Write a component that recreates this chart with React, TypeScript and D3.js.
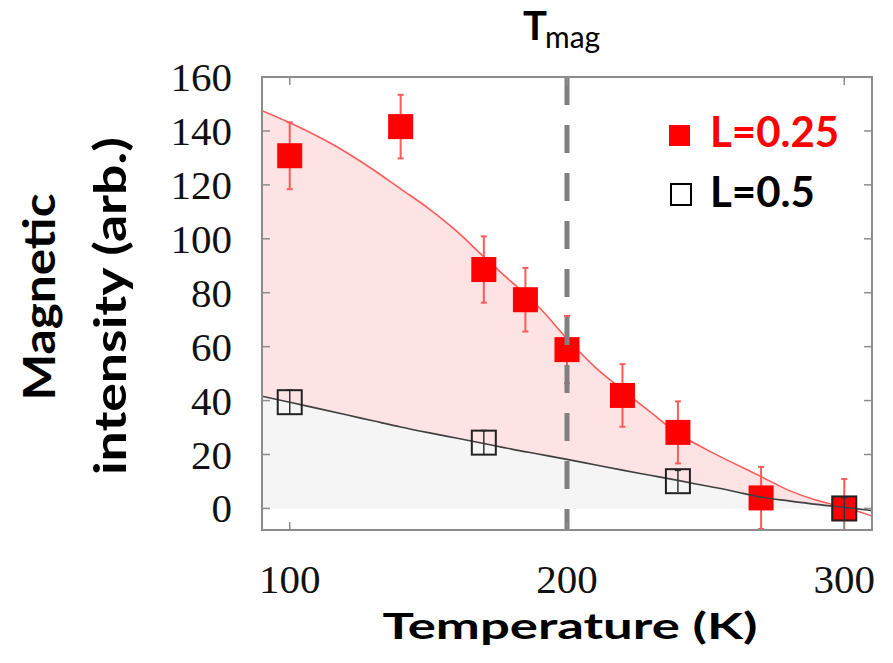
import React from 'react';
import * as d3 from 'd3';

// L = 0.25 measured points
const tempsL025 = [100, 140, 170, 185, 200, 220, 240, 270, 300];
const intensL025 = [130.8, 141.6, 88.6, 77.4, 58.9, 41.9, 28.2, 3.9, -0.1];
const errL025 = [12.4, 11.8, 12.3, 11.8, 12.5, 11.6, 11.5, 11.5, 11];

// L = 0.5 measured points
const tempsL05 = [100, 170, 240, 300];
const intensL05 = [39.4, 24.4, 10.1, 0];
const errL05 = [4.5, 4.5, 4, 4];

// fit curves
const fitT = [90, 100, 110, 120, 130, 140, 150, 160, 170, 180, 190, 200, 210, 220, 230, 240, 250, 260, 270, 280, 290, 300, 310];
const fitL025 = [147.5, 143, 138, 132.3, 125.7, 118.5, 111.3, 103, 93.3, 84, 74.5, 63, 52.5, 44, 35.8, 27.8, 22, 16.8, 11.8, 6.7, 3, 0.4, -2.8];
const fitL05 = [41.6, 39.4, 37.1, 34.8, 32.5, 30.2, 28.1, 26.1, 24.1, 22, 20.1, 18.2, 16.2, 14.2, 12.3, 10.4, 8.4, 6.4, 4.2, 2.8, 1.5, 0.4, -0.8];

const yTicks = [0, 20, 40, 60, 80, 100, 120, 140, 160];
const xTicks = [100, 200, 300];
const tMag = 200;

const W = 893;
const H = 663;

export default function App() {
  const x = d3.scaleLinear().domain([90, 310]).range([262, 872]);
  const y = d3.scaleLinear().domain([-8, 160]).range([530, 77]);
  const [x0, x1] = x.range();
  const [yb, yt] = y.range();

  const redPts = fitT.map((t, i) => [t, fitL025[i]] as [number, number]);
  const grayPts = fitT.map((t, i) => [t, fitL05[i]] as [number, number]);

  const lineGen = d3
    .line<[number, number]>()
    .x((d) => x(d[0]))
    .y((d) => y(d[1]))
    .curve(d3.curveMonotoneX);

  const areaGen = d3
    .area<[number, number]>()
    .x((d) => x(d[0]))
    .y0(y(0))
    .y1((d) => y(Math.max(d[1], 0)))
    .curve(d3.curveMonotoneX);

  const frameColor = '#8c8c8c';
  const sq = 25;
  const osq = 24;
  const tickLen = 8;
  const sans = "Lato, 'Open Sans', sans-serif";
  const serif = "'Liberation Serif', 'Times New Roman', serif";

  return (
    <svg
      width={W}
      height={H}
      style={{ position: 'absolute', left: 0, top: 0, background: '#fff' }}
    >
      <defs>
        <clipPath id="plotClip">
          <rect x={x0} y={yt} width={x1 - x0} height={yb - yt} />
        </clipPath>
      </defs>
      <g clipPath="url(#plotClip)">
        <path d={areaGen(redPts) || ''} fill="#fde3e3" />
        <path d={areaGen(grayPts) || ''} fill="#f5f5f5" />
        <path d={lineGen(redPts) || ''} fill="none" stroke="#ff5a5a" strokeWidth={1.6} />

        {tempsL025.map((t, i) => {
          const cx = x(t);
          const top = y(intensL025[i] + errL025[i]);
          const bot = y(intensL025[i] - errL025[i]);
          return (
            <g key={'r' + i}>
              <line x1={cx} x2={cx} y1={top} y2={bot} stroke="#ff5a5a" strokeWidth={2} />
              <line x1={cx - 3} x2={cx + 3} y1={top} y2={top} stroke="#ff5a5a" strokeWidth={2} />
              <line x1={cx - 3} x2={cx + 3} y1={bot} y2={bot} stroke="#ff5a5a" strokeWidth={2} />
              <rect x={cx - sq / 2} y={y(intensL025[i]) - sq / 2} width={sq} height={sq} fill="#ff0000" />
            </g>
          );
        })}

        <path d={lineGen(grayPts) || ''} fill="none" stroke="#404040" strokeWidth={1.6} />

        {tempsL05.map((t, i) => {
          const cx = x(t);
          const top = y(intensL05[i] + errL05[i]);
          const bot = y(intensL05[i] - errL05[i]);
          return (
            <g key={'b' + i}>
              <line x1={cx} x2={cx} y1={top} y2={bot} stroke="#333" strokeWidth={1.5} />
              <line x1={cx - 3} x2={cx + 3} y1={top} y2={top} stroke="#333" strokeWidth={1.5} />
              <rect
                x={cx - osq / 2}
                y={y(intensL05[i]) - osq / 2}
                width={osq}
                height={osq}
                fill="none"
                stroke="#222"
                strokeWidth={2}
              />
            </g>
          );
        })}

        <line
          x1={x(tMag)}
          x2={x(tMag)}
          y1={yt}
          y2={yb}
          stroke="#808080"
          strokeWidth={5}
          strokeDasharray="28 20"
        />
      </g>

      {/* frame */}
      <rect x={x0} y={yt} width={x1 - x0} height={yb - yt} fill="none" stroke={frameColor} strokeWidth={2} />
      {yTicks.map((v) => (
        <g key={'yt' + v}>
          <line x1={x0} x2={x0 + tickLen} y1={y(v)} y2={y(v)} stroke={frameColor} strokeWidth={1.5} />
          <line x1={x1} x2={x1 - tickLen} y1={y(v)} y2={y(v)} stroke={frameColor} strokeWidth={1.5} />
          <text x={232} y={y(v) + 14} textAnchor="end" fontFamily={serif} fontSize={41} fill="#111">
            {v}
          </text>
        </g>
      ))}
      {xTicks.map((v) => (
        <g key={'xt' + v}>
          <line x1={x(v)} x2={x(v)} y1={yb} y2={yb - tickLen} stroke={frameColor} strokeWidth={1.5} />
          <line x1={x(v)} x2={x(v)} y1={yt} y2={yt + tickLen} stroke={frameColor} strokeWidth={1.5} />
          <text x={x(v)} y={593} textAnchor="middle" fontFamily={serif} fontSize={41} fill="#111">
            {v}
          </text>
        </g>
      ))}

      {/* axis titles */}
      <text
        x={570}
        y={639}
        textAnchor="middle"
        fontFamily={sans}
        fontWeight="bold"
        fontSize={36}
        textLength={375}
        lengthAdjust="spacingAndGlyphs"
        fill="#000"
      >
        Temperature (K)
      </text>
      <text
        transform="translate(55,297) rotate(-90)"
        textAnchor="middle"
        fontFamily={sans}
        fontWeight="bold"
        fontSize={44}
        textLength={207}
        lengthAdjust="spacingAndGlyphs"
        fill="#000"
      >
        Magnetic
      </text>
      <text
        transform="translate(126,306) rotate(-90)"
        textAnchor="middle"
        fontFamily={sans}
        fontWeight="bold"
        fontSize={44}
        textLength={338}
        lengthAdjust="spacingAndGlyphs"
        fill="#000"
      >
        intensity (arb.)
      </text>

      {/* T_mag label */}
      <text x={523} y={40} fontFamily={sans} fontWeight="bold" fontSize={40} fill="#000">
        T
      </text>
      <text x={545} y={48} fontFamily={sans} fontSize={30} fill="#000">
        mag
      </text>

      {/* legend */}
      <rect x={669} y={125} width={21} height={21} fill="#ff0000" />
      <text x={710} y={147} fontFamily={sans} fontWeight="bold" fontSize={42} fill="#ff0000">
        L=0.25
      </text>
      <rect x={671} y={184} width={20} height={21} fill="none" stroke="#000" strokeWidth={2} />
      <text x={710} y={207} fontFamily={sans} fontWeight="bold" fontSize={42} fill="#000">
        L=0.5
      </text>
    </svg>
  );
}
